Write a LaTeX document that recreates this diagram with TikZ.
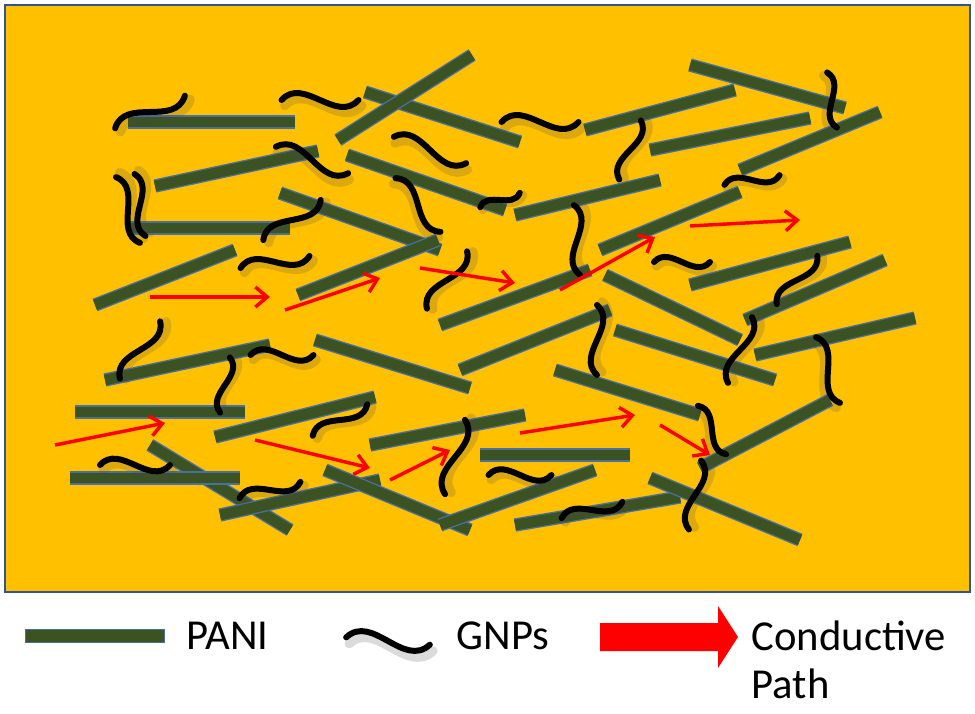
\documentclass[tikz,border=0pt]{standalone}
\usepackage{fontspec}
\setmainfont{Carlito}
\usetikzlibrary{arrows.meta}
\definecolor{orng}{HTML}{FFC000}
\definecolor{frame}{HTML}{2F5597}
\definecolor{pgreen}{HTML}{3B5323}
\definecolor{pedge}{HTML}{4A6FA5}
\tikzset{
 panio/.style={line width=10pt,draw=pedge},
 panii/.style={line width=8pt,draw=pgreen},
 gnpl/.style={line width=4.5pt,draw=black,line cap=round},
 gsh/.style={line width=7pt,draw=black!70,opacity=0.2,line cap=round},
 cpath/.style={draw=red,line width=2.6pt,-{Straight Barb[length=9pt,width=15pt,line width=2.6pt]}},
 leg/.style={anchor=west,font=\fontsize{32}{36}\selectfont}
}
\def\pani(#1)(#2){\draw[panio](#1)--(#2);\draw[panii](#1)--(#2);}
\newcommand\gnpw[3]{\begin{scope}[shift={(#1)},rotate=#2,scale=#3]
 \draw[gsh,shift={(3,5)}] (-35,0) .. controls (-15,-22) and (15,22) .. (35,0);
 \draw[gnpl] (-35,0) .. controls (-15,-22) and (15,22) .. (35,0);\end{scope}}
\begin{document}
\begin{tikzpicture}[x=0.75pt,y=-0.75pt]
\useasboundingbox (0,0) rectangle (975,714);
\draw[frame,line width=2.2pt,fill=orng] (5,5) rectangle (970,592);
% bars
\pani(128,122)(295,122)
\pani(365,92)(520,142)
\pani(338,140)(472,55)
\pani(155,186)(318,151)
\pani(128,228)(290,228)
\pani(347,155)(505,210)
\pani(280,193)(440,250)
\pani(95,305)(235,250)
\pani(298,295)(438,240)
\pani(690,65)(845,108)
\pani(585,130)(735,90)
\pani(650,150)(810,118)
\pani(740,170)(880,112)
\pani(515,215)(660,180)
\pani(600,250)(740,192)
\pani(440,325)(590,270)
\pani(460,370)(610,310)
\pani(605,275)(740,340)
\pani(690,285)(850,242)
\pani(745,320)(885,260)
\pani(755,355)(915,318)
\pani(615,330)(775,380)
\pani(555,370)(700,415)
\pani(105,380)(270,345)
\pani(315,340)(470,388)
\pani(75,412)(245,412)
\pani(215,437)(375,397)
\pani(370,445)(525,415)
\pani(480,455)(630,455)
\pani(150,445)(290,530)
\pani(70,478)(240,478)
\pani(220,515)(380,480)
\pani(325,470)(470,530)
\pani(440,525)(595,470)
\pani(515,525)(680,497)
\pani(650,478)(800,540)
\pani(700,468)(830,400)
% GNPs
\gnpw{150,112}{25}{1.1}
\gnpw{320,100}{0}{1.1}
\gnpw{128,210}{110}{1}
\gnpw{140,205}{100}{0.9}
\gnpw{292,220}{35}{1}
\gnpw{275,262}{10}{1}
\gnpw{312,160}{-20}{1.1}
\gnpw{430,150}{-20}{1.1}
\gnpw{418,205}{-50}{1}
\gnpw{540,122}{0}{1.1}
\gnpw{630,150}{70}{0.9}
\gnpw{500,200}{20}{0.6}
\gnpw{577,240}{95}{1}
\gnpw{447,280}{55}{1}
\gnpw{682,262}{0}{0.8}
\gnpw{752,180}{10}{0.8}
\gnpw{832,100}{-80}{0.8}
\gnpw{797,280}{50}{0.9}
\gnpw{740,350}{70}{1}
\gnpw{828,370}{-70}{1}
\gnpw{597,340}{90}{1}
\gnpw{140,350}{55}{1}
\gnpw{282,355}{0}{0.9}
\gnpw{225,385}{80}{0.8}
\gnpw{340,420}{30}{0.9}
\gnpw{455,457}{75}{1.1}
\gnpw{135,465}{0}{1}
\gnpw{270,490}{15}{0.9}
\gnpw{520,475}{0}{0.9}
\gnpw{592,510}{15}{0.9}
\gnpw{695,495}{80}{1}
\gnpw{712,430}{-60}{0.8}
% conductive paths
\draw[cpath] (150,297)--(270,297);
\draw[cpath] (285,310)--(380,278);
\draw[cpath] (420,268)--(515,283);
\draw[cpath] (560,290)--(655,237);
\draw[cpath] (690,226)--(800,220);
\draw[cpath] (55,445)--(165,423);
\draw[cpath] (255,440)--(370,468);
\draw[cpath] (390,480)--(450,450);
\draw[cpath] (520,433)--(635,415);
\draw[cpath] (660,425)--(710,455);
% legend
\draw[line width=11pt,draw=pedge] (25,636)--(165,636);
\draw[line width=9pt,draw=pgreen] (26,636)--(164,636);
\node[leg] (lp) at (182,636) {PANI};
\gnpw{388,641}{-5}{1.2}
\node[leg] (lg) at (452,636) {GNPs};
\fill[red] (600,623) -- (718,623) -- (718,606) -- (738,637) -- (718,668) -- (718,651) -- (600,651) -- cycle;
\node[leg] (lc) at (747,636) {Conductive};
\node[leg] (lpath) at (747,684) {Path};
\end{tikzpicture}
\end{document}
